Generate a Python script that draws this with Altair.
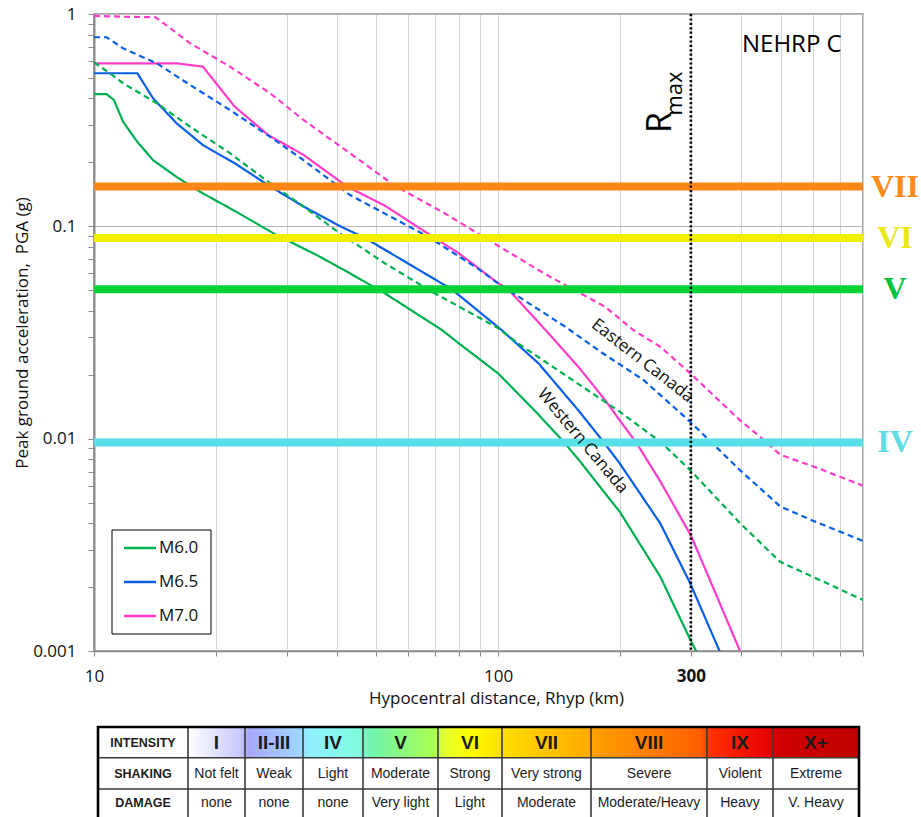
import altair as alt
import pandas as pd

# ---------------- PGA attenuation curves: hypocentral distance (km) vs PGA (g) ----------------
# Western Canada (solid lines)
west_m60_r = [10, 10.75, 11.2, 11.8, 12.8, 14, 16, 18.3, 22.5, 28.3, 35.6, 43, 52.5, 72.6, 80, 100, 123, 144, 158, 184, 200, 252, 299, 310]
west_m60_pga = [0.419, 0.419, 0.394, 0.311, 0.25, 0.205, 0.171, 0.1455, 0.117, 0.091, 0.0732, 0.0601, 0.0483, 0.0325, 0.0281, 0.0203, 0.0136, 0.00985, 0.0080, 0.00553, 0.00453, 0.00224, 0.00113, 0.00099]

west_m65_r = [10, 12.8, 14, 16, 18.6, 22.5, 27.3, 33, 40.7, 46.9, 76.8, 102, 126, 158, 182, 200, 252, 299, 354]
west_m65_pga = [0.526, 0.526, 0.401, 0.306, 0.2415, 0.196, 0.154, 0.124, 0.1, 0.088, 0.0505, 0.0325, 0.0226, 0.0136, 0.0097, 0.00765, 0.00399, 0.00208, 0.00099]

west_m70_r = [10, 16, 18.6, 22.3, 27, 33, 42.3, 52.5, 62.9, 80, 100, 106, 131, 158, 184, 200, 219.6, 252, 300, 316, 397]
west_m70_pga = [0.586, 0.586, 0.565, 0.366, 0.269, 0.217, 0.154, 0.125, 0.1, 0.0746, 0.054, 0.0505, 0.0325, 0.0218, 0.0152, 0.0122, 0.0096, 0.0063, 0.0035, 0.00278, 0.001]

# Eastern Canada (dashed lines)
east_m60_r = [10, 10.95, 11.8, 14.3, 17.3, 21.7, 27.3, 33, 40.6, 52.5, 69.8, 100, 112, 184, 200, 252, 299, 397, 499, 800]
east_m60_pga = [0.592, 0.526, 0.472, 0.38, 0.2945, 0.221, 0.1595, 0.124, 0.0927, 0.0669, 0.0483, 0.0332, 0.0281, 0.0149, 0.0134, 0.00967, 0.00711, 0.004, 0.00263, 0.00174]

east_m65_r = [10, 10.75, 11.8, 14.3, 17.3, 21.7, 27.3, 33, 43, 50.5, 67.2, 89.4, 100, 146.5, 179, 229, 299, 397, 499, 603, 800]
east_m65_pga = [0.777, 0.777, 0.689, 0.586, 0.463, 0.353, 0.264, 0.205, 0.1404, 0.1193, 0.0893, 0.063, 0.0539, 0.0337, 0.0257, 0.0189, 0.012, 0.0071, 0.0048, 0.0041, 0.0033]

east_m70_r = [10, 11.8, 14.2, 17.3, 21.7, 27.3, 33, 43, 55.6, 73.9, 100, 131, 184, 216, 252, 299, 397, 445, 499, 603, 800]
east_m70_pga = [0.98, 0.971, 0.965, 0.728, 0.565, 0.423, 0.317, 0.221, 0.155, 0.115, 0.081, 0.0595, 0.0418, 0.0325, 0.0271, 0.0203, 0.0122, 0.0102, 0.0084, 0.0074, 0.006]

magnitudes = ["M6.0", "M6.5", "M7.0"]
magnitude_colors = ["#00B050", "#0A5FE6", "#FF3CC8"]
regions = ["Western Canada", "Eastern Canada"]

# Intensity thresholds (PGA, g) drawn as thick horizontal bands
mmi_labels = ["VII", "VI", "V", "IV"]
mmi_pga = [0.154, 0.088, 0.0505, 0.0096]
mmi_band_colors = ["#FF8514", "#F2EE00", "#00D436", "#57DFE7"]
mmi_text_colors = ["#FF8C1A", "#E8E81C", "#00C43E", "#62DCE4"]

rmax_km = 300

# Intensity scale table
table_heads = ["INTENSITY", "SHAKING", "DAMAGE"]
intensity_row = ["I", "II-III", "IV", "V", "VI", "VII", "VIII", "IX", "X+"]
shaking_row = ["Not felt", "Weak", "Light", "Moderate", "Strong", "Very strong", "Severe", "Violent", "Extreme"]
damage_row = ["none", "none", "none", "Very light", "Light", "Moderate", "Moderate/Heavy", "Heavy", "V. Heavy"]

# ---------------- layout (pixels, relative to the plot origin) ----------------
PLOT_W, PLOT_H = 769, 637
PAD = {"left": 94, "top": 14, "right": 58, "bottom": 166}
FONT = "Open Sans"
TABLE_FONT = "Liberation Sans"
table_col_edges = [4, 94, 151, 209, 269, 344, 408, 497, 613, 679, 765]
table_row_edges = [713, 743.7, 775, 806]
table_row_mid = [728.5, 759.5, 789]

# ---------------- assemble curve table ----------------
curve_sets = [
    ("M6.0", "Western Canada", west_m60_r, west_m60_pga),
    ("M6.5", "Western Canada", west_m65_r, west_m65_pga),
    ("M7.0", "Western Canada", west_m70_r, west_m70_pga),
    ("M6.0", "Eastern Canada", east_m60_r, east_m60_pga),
    ("M6.5", "Eastern Canada", east_m65_r, east_m65_pga),
    ("M7.0", "Eastern Canada", east_m70_r, east_m70_pga),
]
rows = []
for mag, region, rs, ps in curve_sets:
    for r, p in zip(rs, ps):
        rows.append({"R": r, "PGA": p, "mag": mag, "region": region, "series": f"{mag} {region}"})
curve_df = pd.DataFrame(rows)

x_ticks = [10, 20, 30, 40, 50, 60, 70, 80, 90, 100, 200, 300, 400, 500, 600, 700, 800]
y_ticks = [0.001, 0.002, 0.003, 0.004, 0.005, 0.006, 0.007, 0.008, 0.009,
           0.01, 0.02, 0.03, 0.04, 0.05, 0.06, 0.07, 0.08, 0.09,
           0.1, 0.2, 0.3, 0.4, 0.5, 0.6, 0.7, 0.8, 0.9, 1]

x_scale = alt.Scale(type="log", domain=[10, 800], nice=False)
y_scale = alt.Scale(type="log", domain=[0.001, 1], nice=False)

x_axis = alt.Axis(
    values=x_ticks,
    labelExpr="indexof([10, 100, 300], datum.value) >= 0 ? '' + datum.value : ''",
    labelFontWeight={"condition": {"test": "datum.value == 300", "value": "bold"}, "value": "normal"},
    labelFont=FONT, labelFontSize=17, labelColor="#111111",
    labelFlush=False, labelOverlap=False, labelPadding=12,
    grid=True, gridColor="#d3d3d3", gridWidth=1,
    tickSize=5, tickColor="#8c8c8c", domainColor="#8c8c8c", domainWidth=1.5,
    title="Hypocentral distance, Rhyp (km)", titleFont=FONT, titleFontSize=17,
    titleFontWeight="normal", titleColor="#111111",
    titleX=402, titleY=52, titleAlign="center", titleBaseline="alphabetic",
)
y_axis = alt.Axis(
    values=y_ticks,
    labelExpr="indexof([0.001, 0.01, 0.1, 1], datum.value) >= 0 ? '' + datum.value : ''",
    labelFont=FONT, labelFontSize=17, labelColor="#111111",
    labelFlush=False, labelOverlap=False, labelPadding=12, labelBaseline="middle",
    grid=True, gridColor="#b8b8b8", gridWidth=1,
    gridOpacity={"condition": {"test": "indexof([0.001, 0.01, 0.1, 1], datum.value) >= 0", "value": 1}, "value": 0},
    tickSize=6, tickColor="#8c8c8c", domainColor="#8c8c8c", domainWidth=2,
    title="Peak ground acceleration,\u00a0 PGA (g)", titleFont=FONT, titleFontSize=17,
    titleFontWeight="normal", titleColor="#111111",
    titleX=-67, titleY=318.5, titleAngle=270, titleAlign="center", titleBaseline="alphabetic",
)

curves = alt.Chart(curve_df).mark_line(strokeWidth=2.2, clip=True).encode(
    x=alt.X("R:Q", scale=x_scale, axis=x_axis),
    y=alt.Y("PGA:Q", scale=y_scale, axis=y_axis),
    color=alt.Color("mag:N", scale=alt.Scale(domain=magnitudes, range=magnitude_colors), legend=None),
    strokeDash=alt.StrokeDash("region:N", scale=alt.Scale(domain=regions, range=[[1, 0], [6, 4]]), legend=None),
    detail="series:N",
)

# ---------------- intensity bands and labels ----------------
mmi_df = pd.DataFrame({"label": mmi_labels, "PGA": mmi_pga,
                       "band": mmi_band_colors, "ink": mmi_text_colors})
bands = alt.Chart(mmi_df).mark_rule(strokeWidth=8).encode(
    y="PGA:Q", color=alt.Color("band:N", scale=None),
)
band_labels = alt.Chart(mmi_df).mark_text(
    font="Liberation Serif", fontSize=32, fontWeight="bold", align="center", baseline="middle",
).encode(
    x=alt.value(801), y="PGA:Q", text="label:N", color=alt.Color("ink:N", scale=None),
)

# ---------------- R max marker ----------------
rmax_df = pd.DataFrame({"R": [rmax_km]})
rmax_rule = alt.Chart(rmax_df).mark_rule(color="black", strokeWidth=2.6, strokeDash=[2.2, 2.2]).encode(x="R:Q")
rmax_R = alt.Chart(rmax_df).mark_text(
    text="R", font=FONT, fontSize=34, angle=270, align="center", baseline="alphabetic", dy=-20, color="black",
).encode(x="R:Q", y=alt.value(108.5))
rmax_sub = alt.Chart(rmax_df).mark_text(
    text="max", font=FONT, fontSize=22, angle=270, align="center", baseline="alphabetic", dy=-9, color="black",
).encode(x="R:Q", y=alt.value(79.5))

site_label = alt.Chart(pd.DataFrame({"t": ["NEHRP C"]})).mark_text(
    font=FONT, fontSize=24, align="left", baseline="alphabetic", color="black",
).encode(x=alt.value(648), y=alt.value(37.7), text="t:N")

# ---------------- region annotations along curves ----------------
region_df = pd.DataFrame({
    "text": ["Western Canada", "Eastern Canada"],
    "R": [161.9, 227.9],
    "PGA": [0.00976, 0.02325],
    "angle": [50, 38],
})
region_text = alt.Chart(region_df).mark_text(
    font=FONT, fontSize=17, align="center", baseline="middle", color="#111111",
).encode(x="R:Q", y="PGA:Q", text="text:N", angle=alt.Angle("angle:Q", scale=None))

# ---------------- legend ----------------
legend_df = pd.DataFrame({
    "mag": magnitudes, "col": magnitude_colors,
    "ly": [534 + 34 * i for i in range(len(magnitudes))],
})
legend_box = alt.Chart(pd.DataFrame({"k": [0]})).mark_rect(
    fill="white", stroke="black", strokeWidth=1,
).encode(x=alt.value(18), x2=alt.value(117), y=alt.value(516), y2=alt.value(620))
legend_lines = alt.Chart(legend_df).mark_rule(strokeWidth=2.5).encode(
    x=alt.value(30), x2=alt.value(62),
    y=alt.Y("ly:Q", scale=None), color=alt.Color("col:N", scale=None),
)
legend_text = alt.Chart(legend_df).mark_text(
    font=FONT, fontSize=17, align="left", baseline="middle", color="#111111",
).encode(x=alt.value(65), y=alt.Y("ly:Q", scale=None), text="mag:N")

# ---------------- intensity table ----------------
def col_mid(i):
    return (table_col_edges[i] + table_col_edges[i + 1]) / 2

head_df = pd.DataFrame({"cx": [col_mid(0)] * 3, "cy": table_row_mid, "text": table_heads})
numeral_df = pd.DataFrame({"cx": [col_mid(i + 1) for i in range(len(intensity_row))],
                           "cy": table_row_mid[0], "text": intensity_row})
body_rows = []
for ri, row in ((1, shaking_row), (2, damage_row)):
    for ci, txt in enumerate(row):
        body_rows.append({"cx": col_mid(ci + 1), "cy": table_row_mid[ri], "text": txt})
body_df = pd.DataFrame(body_rows)

header_gradient = {
    "gradient": "linear", "x1": 0, "x2": 1, "y1": 0, "y2": 0,
    "stops": [
        {"offset": 0.0, "color": "#ffffff"},
        {"offset": 0.078, "color": "#c8c8ff"},
        {"offset": 0.090, "color": "#a8a8fb"},
        {"offset": 0.165, "color": "#a0d4ff"},
        {"offset": 0.182, "color": "#90f0ff"},
        {"offset": 0.255, "color": "#80fce0"},
        {"offset": 0.272, "color": "#70f4b0"},
        {"offset": 0.366, "color": "#a8ff50"},
        {"offset": 0.383, "color": "#e4ff30"},
        {"offset": 0.420, "color": "#ffff00"},
        {"offset": 0.466, "color": "#ffe000"},
        {"offset": 0.598, "color": "#ffaa00"},
        {"offset": 0.612, "color": "#ff9c00"},
        {"offset": 0.762, "color": "#ff6000"},
        {"offset": 0.780, "color": "#ff3000"},
        {"offset": 0.866, "color": "#e60000"},
        {"offset": 0.882, "color": "#d00000"},
        {"offset": 1.0, "color": "#bf0000"},
    ],
}
table_header_fill = alt.Chart(pd.DataFrame({"k": [0]})).mark_rect(fill=header_gradient).encode(
    x=alt.value(table_col_edges[1]), x2=alt.value(table_col_edges[-1]),
    y=alt.value(table_row_edges[0]), y2=alt.value(table_row_edges[1]),
)
table_vlines = alt.Chart(pd.DataFrame({"xe": table_col_edges[1:-1]})).mark_rule(
    color="#3a3a3a", strokeWidth=1.6,
).encode(x=alt.X("xe:Q", scale=None), y=alt.value(table_row_edges[0]), y2=alt.value(table_row_edges[-1]))
table_hlines = alt.Chart(pd.DataFrame({"ye": table_row_edges[1:-1]})).mark_rule(
    color="#3a3a3a", strokeWidth=1.6,
).encode(y=alt.Y("ye:Q", scale=None), x=alt.value(table_col_edges[0]), x2=alt.value(table_col_edges[-1]))
table_border = alt.Chart(pd.DataFrame({"k": [0]})).mark_rect(
    filled=False, stroke="#000000", strokeWidth=2.6,
).encode(
    x=alt.value(table_col_edges[0]), x2=alt.value(table_col_edges[-1]),
    y=alt.value(table_row_edges[0]), y2=alt.value(table_row_edges[-1]),
)
table_heads_text = alt.Chart(head_df).mark_text(
    font=TABLE_FONT, fontSize=12.5, fontWeight="bold", align="center", baseline="middle", color="#1c1c1c",
).encode(x=alt.X("cx:Q", scale=None), y=alt.Y("cy:Q", scale=None), text="text:N")
table_numerals = alt.Chart(numeral_df).mark_text(
    font=TABLE_FONT, fontSize=19, fontWeight="bold", align="center", baseline="middle", color="#1c1c1c",
).encode(x=alt.X("cx:Q", scale=None), y=alt.Y("cy:Q", scale=None), text="text:N")
table_body = alt.Chart(body_df).mark_text(
    font=TABLE_FONT, fontSize=14, align="center", baseline="middle", color="#1c1c1c",
).encode(x=alt.X("cx:Q", scale=None), y=alt.Y("cy:Q", scale=None), text="text:N")

chart = alt.layer(
    curves, bands, rmax_rule, band_labels, rmax_R, rmax_sub, site_label, region_text,
    legend_box, legend_lines, legend_text,
    table_header_fill, table_vlines, table_hlines, table_border,
    table_heads_text, table_numerals, table_body,
).properties(
    width=PLOT_W, height=PLOT_H,
    autosize=alt.AutoSizeParams(type="none"),
    padding=PAD,
).configure_view(stroke="#8c8c8c", strokeWidth=1.5)

chart.save("out.html", embed_options={"renderer": "svg", "actions": False})
